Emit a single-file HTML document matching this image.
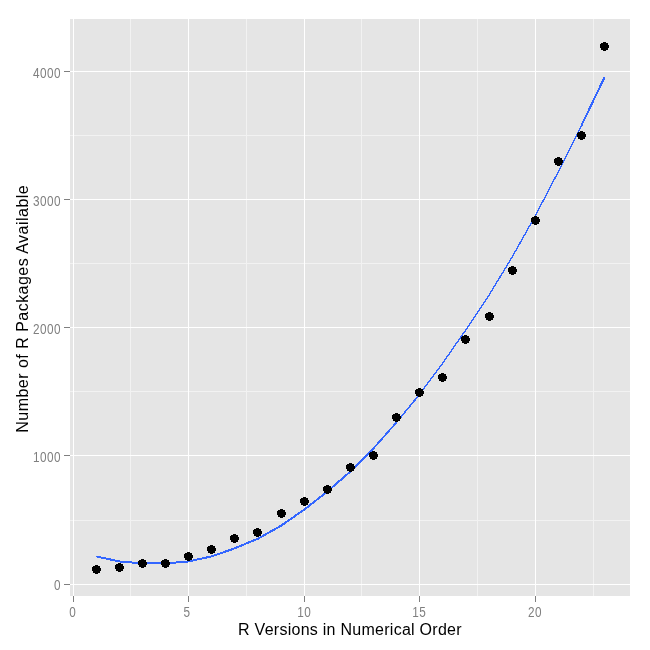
<!DOCTYPE html>
<html><head><meta charset="utf-8"><title>R Packages</title>
<style>html,body{margin:0;padding:0;background:#fff;}svg{display:block;}text{font-family:"Liberation Sans",sans-serif;}</style></head><body>
<svg width="650" height="650" viewBox="0 0 650 650">
<rect x="0" y="0" width="650" height="650" fill="#ffffff"/>
<g shape-rendering="crispEdges">
<rect x="70" y="19" width="560" height="577" fill="#e5e5e5"/>
<rect x="70" y="135" width="560" height="1" fill="#f2f2f2"/>
<rect x="70" y="263" width="560" height="1" fill="#f2f2f2"/>
<rect x="70" y="391" width="560" height="1" fill="#f2f2f2"/>
<rect x="70" y="520" width="560" height="1" fill="#f2f2f2"/>
<rect x="130" y="19" width="1" height="577" fill="#f2f2f2"/>
<rect x="246" y="19" width="1" height="577" fill="#f2f2f2"/>
<rect x="361" y="19" width="1" height="577" fill="#f2f2f2"/>
<rect x="477" y="19" width="1" height="577" fill="#f2f2f2"/>
<rect x="593" y="19" width="1" height="577" fill="#f2f2f2"/>
<rect x="70" y="71" width="560" height="1" fill="#ffffff"/>
<rect x="64" y="71" width="6" height="1" fill="#7f7f7f"/>
<rect x="70" y="199" width="560" height="1" fill="#ffffff"/>
<rect x="64" y="199" width="6" height="1" fill="#7f7f7f"/>
<rect x="70" y="327" width="560" height="1" fill="#ffffff"/>
<rect x="64" y="327" width="6" height="1" fill="#7f7f7f"/>
<rect x="70" y="455" width="560" height="1" fill="#ffffff"/>
<rect x="64" y="455" width="6" height="1" fill="#7f7f7f"/>
<rect x="70" y="584" width="560" height="1" fill="#ffffff"/>
<rect x="64" y="584" width="6" height="1" fill="#7f7f7f"/>
<rect x="73" y="19" width="1" height="577" fill="#ffffff"/>
<rect x="73" y="596" width="1" height="6" fill="#7f7f7f"/>
<rect x="188" y="19" width="1" height="577" fill="#ffffff"/>
<rect x="188" y="596" width="1" height="6" fill="#7f7f7f"/>
<rect x="304" y="19" width="1" height="577" fill="#ffffff"/>
<rect x="304" y="596" width="1" height="6" fill="#7f7f7f"/>
<rect x="419" y="19" width="1" height="577" fill="#ffffff"/>
<rect x="419" y="596" width="1" height="6" fill="#7f7f7f"/>
<rect x="535" y="19" width="1" height="577" fill="#ffffff"/>
<rect x="535" y="596" width="1" height="6" fill="#7f7f7f"/>
</g>
<g stroke="#3366ff" fill="none" shape-rendering="crispEdges">
<polyline points="96.45,556.45 119.45,561.45 142.45,563.45 165.45,563.45 188.45,561.45 211.45,556.45 234.45,548.45 258.45,538.45 281.45,525.45 304.45,509.45 327.45,491.45 350.45,471.45 373.45,448.45" stroke-width="2"/>
<line x1="373.45" y1="448.45" x2="396.45" y2="422.45" stroke-width="1.8"/>
<line x1="396.45" y1="422.45" x2="419.45" y2="394.45" stroke-width="1.6"/>
<line x1="419.45" y1="394.45" x2="442.45" y2="363.45" stroke-width="1.4"/>
<line x1="442.45" y1="363.45" x2="465.45" y2="330.45" stroke-width="1.4"/>
<line x1="465.45" y1="330.45" x2="489.45" y2="294.45" stroke-width="1.4"/>
<line x1="489.45" y1="294.45" x2="512.45" y2="256.45" stroke-width="1.4"/>
<line x1="512.45" y1="256.45" x2="535.45" y2="215.45" stroke-width="1.4"/>
<line x1="535.45" y1="215.45" x2="558.45" y2="171.45" stroke-width="1.4"/>
<line x1="558.45" y1="171.45" x2="581.45" y2="125.45" stroke-width="1.4"/>
<line x1="581.45" y1="125.45" x2="604.45" y2="77.45" stroke-width="2.0"/>
</g>
<g fill="#000000" shape-rendering="crispEdges">
<circle cx="96.5" cy="569.5" r="4.5"/>
<circle cx="119.5" cy="567.5" r="4.5"/>
<circle cx="142.5" cy="563.5" r="4.5"/>
<circle cx="165.5" cy="563.5" r="4.5"/>
<circle cx="188.5" cy="556.5" r="4.5"/>
<circle cx="211.5" cy="549.5" r="4.5"/>
<circle cx="234.5" cy="538.5" r="4.5"/>
<circle cx="257.5" cy="532.5" r="4.5"/>
<circle cx="281.5" cy="513.5" r="4.5"/>
<circle cx="304.5" cy="501.5" r="4.5"/>
<circle cx="327.5" cy="489.5" r="4.5"/>
<circle cx="350.5" cy="467.5" r="4.5"/>
<circle cx="373.5" cy="455.5" r="4.5"/>
<circle cx="396.5" cy="417.5" r="4.5"/>
<circle cx="419.5" cy="392.5" r="4.5"/>
<circle cx="442.5" cy="377.5" r="4.5"/>
<circle cx="465.5" cy="339.5" r="4.5"/>
<circle cx="489.5" cy="316.5" r="4.5"/>
<circle cx="512.5" cy="270.5" r="4.5"/>
<circle cx="535.5" cy="220.5" r="4.5"/>
<circle cx="558.5" cy="161.5" r="4.5"/>
<circle cx="581.5" cy="135.5" r="4.5"/>
<circle cx="604.5" cy="46.5" r="4.5"/>
</g>
<g font-size="12.8px" fill="#7f7f7f" letter-spacing="0.5">
<text transform="translate(61.1,78) scale(0.92,1.09)" text-anchor="end">4000</text>
<text transform="translate(61.1,206) scale(0.92,1.09)" text-anchor="end">3000</text>
<text transform="translate(61.1,334) scale(0.92,1.09)" text-anchor="end">2000</text>
<text transform="translate(61.1,462) scale(0.92,1.09)" text-anchor="end">1000</text>
<text transform="translate(61.1,590) scale(0.92,1.09)" text-anchor="end">0</text>
<text transform="translate(72.8,617) scale(0.92,1.09)" text-anchor="middle">0</text>
<text transform="translate(187.1,617) scale(0.92,1.09)" text-anchor="middle">5</text>
<text transform="translate(304.2,617) scale(0.92,1.09)" text-anchor="middle">10</text>
<text transform="translate(419.2,617) scale(0.92,1.09)" text-anchor="middle">15</text>
<text transform="translate(535.0,617) scale(0.92,1.09)" text-anchor="middle">20</text>
</g>
<text x="349.8" y="635" font-size="16px" fill="#000" text-anchor="middle" textLength="223.5" lengthAdjust="spacing">R Versions in Numerical Order</text>
<text transform="translate(27.7,309) rotate(-90)" font-size="16px" fill="#000" text-anchor="middle" textLength="247.5" lengthAdjust="spacing">Number of R Packages Available</text>
</svg></body></html>
